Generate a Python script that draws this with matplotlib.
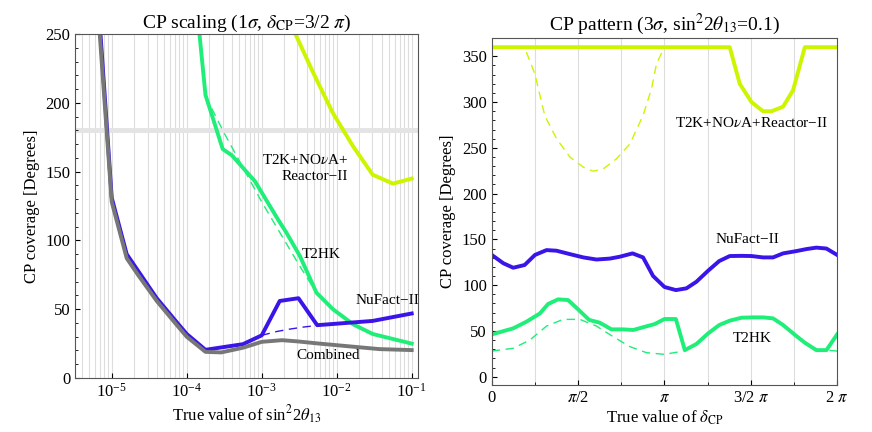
import numpy as np
import matplotlib
matplotlib.use("Agg")
import matplotlib.pyplot as plt
from matplotlib.ticker import FixedLocator, MultipleLocator, NullFormatter

plt.rcParams['font.family'] = ['Liberation Serif', 'DejaVu Serif']
plt.rcParams['mathtext.fontset'] = 'stix'
plt.rcParams['font.size'] = 12

# ---- left panel: CP scaling vs sin^2 2theta13 (log10 x) ----
comb_logx = [-5.16, -5.0, -4.80, -4.65, -4.40, -4.14, -4.0, -3.75, -3.54, -3.25, -3.0, -2.73, -2.52, -2.23, -1.83, -1.43, -1.0]
comb_y = [250, 128, 87, 75, 56, 39, 30, 19, 18.6, 22, 26.3, 27.5, 26.6, 25, 23, 21, 20.3]

nuf_logx = [-5.15, -5.0, -4.80, -4.65, -4.40, -4.14, -4.0, -3.75, -3.25, -3.0, -2.76, -2.51, -2.26, -1.52, -1.0]
nuf_y = [250, 131, 90, 78, 58, 41, 32, 20.5, 24.6, 31, 56, 58, 38.4, 41.5, 46.9]
nuf_dash_logx = [-3.0, -2.8, -2.63, -2.45, -2.26]
nuf_dash_y = [31, 33.8, 35.5, 37, 38.2]

t2hk_logx = [-3.83, -3.75, -3.52, -3.40, -3.09, -2.78, -2.67, -2.49, -2.27, -2.05, -1.78, -1.52, -1.0]
t2hk_y = [250, 205.8, 166.4, 162, 143, 115, 105.6, 88.6, 62, 50, 39, 32, 25]
t2hk_dash_logx = [-3.75, -3.5, -3.0, -2.5, -2.27]
t2hk_dash_y = [205, 178, 128, 82, 62]

t2k_logx = [-2.55, -2.32, -2.05, -1.78, -1.52, -1.25, -1.0]
t2k_y = [250, 222.7, 192.5, 168.3, 147.8, 141.3, 145]

# ---- right panel: CP pattern vs delta_CP (units of pi) ----
nf_d = [0, 0.066, 0.124, 0.19, 0.25, 0.317, 0.375, 0.45, 0.53, 0.606, 0.683, 0.74, 0.815, 0.876, 0.934, 1.0,
        1.066, 1.127, 1.185, 1.253, 1.317, 1.378, 1.446, 1.504, 1.571, 1.629, 1.687, 1.764, 1.822, 1.88, 1.938, 2.0]
nf_v = [133, 124, 119, 122, 133, 138.3, 137.6, 134, 130.3, 128, 129, 131, 134.7, 130.3, 110, 98,
        94.6, 96.5, 103.7, 115.8, 126.3, 131.8, 132, 131.8, 130.3, 130.3, 134.7, 137.2, 139.4, 141, 140, 133]

hk_d = [0, 0.124, 0.2, 0.278, 0.326, 0.384, 0.442, 0.5, 0.564, 0.625, 0.693, 0.761, 0.819, 0.876, 0.944, 1.0,
        1.066, 1.118, 1.185, 1.253, 1.317, 1.378, 1.446, 1.514, 1.571, 1.629, 1.687, 1.764, 1.813, 1.88, 1.938, 2.0]
hk_v = [46.2, 52.8, 60, 69, 79.4, 84.5, 83.7, 73.5, 62, 59, 51.7, 51.7, 51, 54, 57.5, 63,
        63, 29, 35.7, 47.3, 56.4, 61.2, 64.4, 64.8, 64.8, 63.7, 56.4, 44.4, 37.1, 29, 29, 46.2]
# dashed (unmodified) curve; it lies under the solid one between ~1.12 pi and ~1.9 pi
hk_dash_d = [0, 0.124, 0.22, 0.317, 0.413, 0.51, 0.606, 0.703, 0.8, 0.896, 1.0, 1.089, 1.118, 1.185, 1.253,
             1.317, 1.378, 1.446, 1.514, 1.571, 1.629, 1.687, 1.764, 1.813, 1.88, 1.938, 2.0]
hk_dash_v = [28, 31, 40, 55.3, 62.6, 62.6, 55.3, 43.7, 32.8, 26.2, 24.4, 27.3, 29, 35.7, 47.3,
             56.4, 61.2, 64.4, 64.8, 64.8, 63.7, 56.4, 44.4, 37.1, 29, 29, 28]

ty_d = [0, 1.378, 1.436, 1.504, 1.571, 1.62, 1.687, 1.745, 1.813, 2.0]
ty_v = [360, 360, 320, 300, 290, 290, 295, 313, 360, 360]
ty_dash_d = [0.2, 0.249, 0.307, 0.375, 0.452, 0.529, 0.587, 0.645, 0.722, 0.8, 0.876, 0.925, 0.954, 0.992]
ty_dash_v = [354.7, 331, 285, 260, 240, 229, 224.5, 227, 238, 254.4, 285.4, 314.6, 342, 357]

BLUE = '#3a14e8'
GREEN = '#1fee78'
YEL = '#ccf500'
GRAY = '#777777'
LW = 2.8

fig = plt.figure(figsize=(8.72, 4.32), dpi=100)
ax1 = fig.add_axes([0.086, 0.125, 0.393, 0.796])
ax2 = fig.add_axes([0.564, 0.109, 0.396, 0.803])

# left panel
ax1.set_xscale('log')
ax1.set_xlim(10 ** -5.49, 10 ** -0.92)
ax1.set_ylim(0, 250)
for k in range(-6, 0):
    for m in range(1, 10):
        v = m * 10.0 ** k
        ax1.axvline(v, color='#dddddd', lw=0.8, zorder=0)
ax1.axhline(180, color='#e4e4e4', lw=3.5, zorder=0)

px = lambda l: 10 ** np.array(l)
ax1.plot(px(t2k_logx), t2k_y, color=YEL, lw=LW)
ax1.plot(px(t2hk_dash_logx), t2hk_dash_y, color=GREEN, lw=1, ls=(0, (6, 4)))
ax1.plot(px(t2hk_logx), t2hk_y, color=GREEN, lw=LW)
ax1.plot(px(nuf_dash_logx), nuf_dash_y, color=BLUE, lw=1, ls=(0, (6, 4)))
ax1.plot(px(nuf_logx), nuf_y, color=BLUE, lw=LW)
ax1.plot(px(comb_logx), comb_y, color=GRAY, lw=LW)

ax1.set_xticks([1e-5, 1e-4, 1e-3, 1e-2, 1e-1])
ax1.xaxis.set_minor_formatter(NullFormatter())
ax1.yaxis.set_major_locator(MultipleLocator(50))
ax1.yaxis.set_minor_locator(MultipleLocator(10))
ax1.tick_params(which='both', direction='in', labelsize=12)
ax1.tick_params(axis='x', which='minor', length=0)
ax1.set_title(r'CP scaling (1$\sigma$, $\delta_{\rm CP}$=3/2 $\pi$)', fontsize=14, pad=4)
ax1.set_xlabel(r'True value of sin$^2$2$\theta_{13}$', fontsize=12, labelpad=2)
ax1.set_ylabel('CP coverage [Degrees]', fontsize=12)

ax1.text(0.797, 0.612, 'T2K+NO$\\nu$A+\nReactor\u2212II', transform=ax1.transAxes,
         ha='right', va='center', fontsize=11, linespacing=1.3)
ax1.text(10 ** -2.2, 90, 'T2HK', fontsize=11, ha='center', va='center')
ax1.text(10 ** -1.32, 56, 'NuFact\u2212II', fontsize=11, ha='center', va='center')
ax1.text(10 ** -2.12, 16, 'Combined', fontsize=11, ha='center', va='center')

# right panel
ax2.set_xlim(0, 2 * np.pi)
ax2.set_ylim(-9, 370)
for k in range(1, 8):
    ax2.axvline(k * np.pi / 4, color='#dddddd', lw=0.8, zorder=0)

pi_ = lambda l: np.array(l) * np.pi
ax2.plot(pi_(ty_dash_d), ty_dash_v, color=YEL, lw=1, ls=(0, (6, 4)))
ax2.plot(pi_(ty_d), ty_v, color=YEL, lw=LW)
ax2.plot(pi_(nf_d), nf_v, color=BLUE, lw=LW)
ax2.plot(pi_(hk_dash_d), hk_dash_v, color=GREEN, lw=1, ls=(0, (6, 4)))
ax2.plot(pi_(hk_d), hk_v, color=GREEN, lw=LW)

ax2.xaxis.set_major_locator(FixedLocator([0, np.pi / 2, np.pi, 1.5 * np.pi, 2 * np.pi]))
ax2.xaxis.set_minor_locator(FixedLocator([np.pi / 4, 3 * np.pi / 4, 5 * np.pi / 4, 7 * np.pi / 4]))
ax2.set_xticklabels(['0', r'$\pi$/2', r'$\pi$', r'3/2 $\pi$', r'2 $\pi$'])
ax2.yaxis.set_major_locator(MultipleLocator(50))
ax2.yaxis.set_minor_locator(MultipleLocator(10))
ax2.tick_params(which='both', direction='in', labelsize=12)
ax2.set_title(r'CP pattern (3$\sigma$, sin$^2$2$\theta_{13}$=0.1)', fontsize=14, pad=6)
ax2.set_xlabel(r'True value of $\delta_{\rm CP}$', fontsize=12, labelpad=2)
ax2.set_ylabel('CP coverage [Degrees]', fontsize=12)

ax2.text(1.506 * np.pi, 277, 'T2K+NO$\\nu$A+Reactor\u2212II', fontsize=11, ha='center', va='center')
ax2.text(1.482 * np.pi, 150, 'NuFact\u2212II', fontsize=11, ha='center', va='center')
ax2.text(1.506 * np.pi, 42, 'T2HK', fontsize=11, ha='center', va='center')

for ax in (ax1, ax2):
    for s in ax.spines.values():
        s.set_color('#555555')

fig.savefig('out.png', dpi=100)
